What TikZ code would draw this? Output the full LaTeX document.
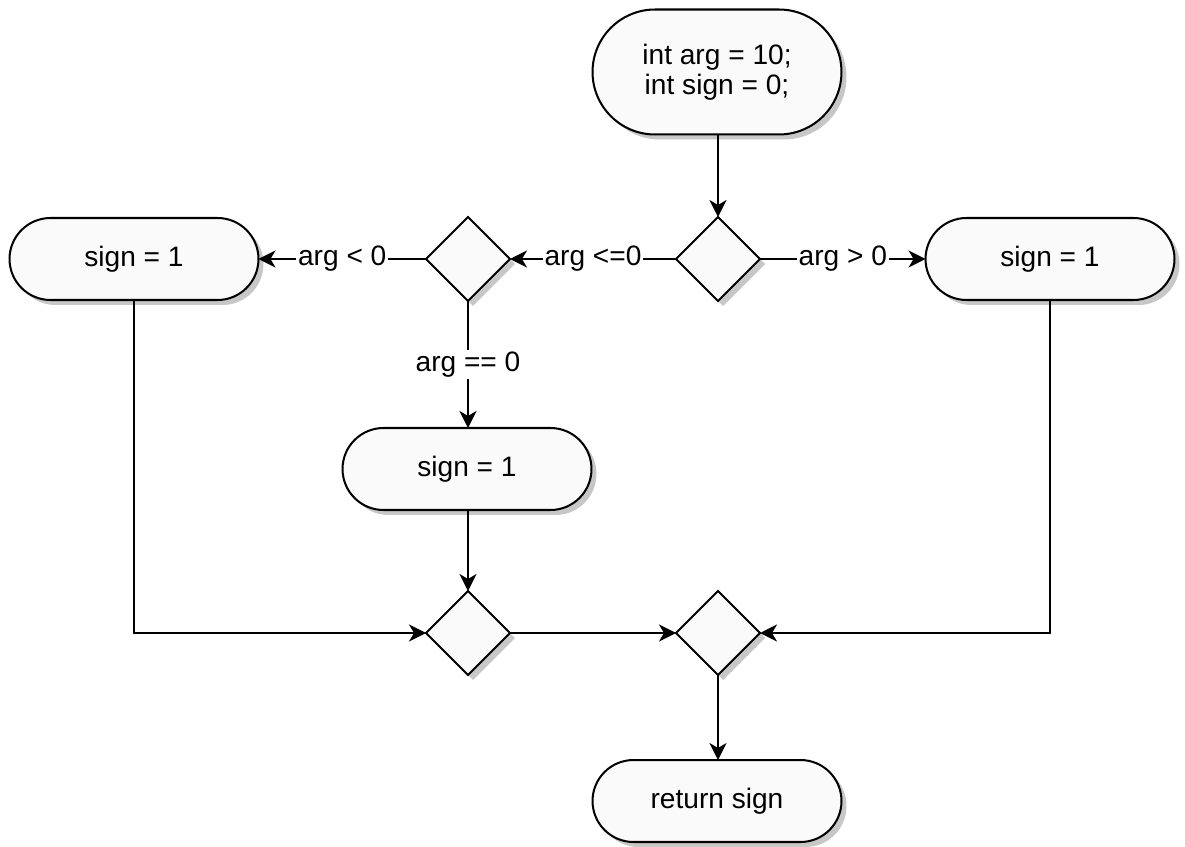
\documentclass[tikz,border=0pt]{standalone}
\usepackage{fontspec}
\setmainfont{Liberation Sans}
\usetikzlibrary{shapes.geometric,shadows,arrows.meta}
\begin{document}
\begin{tikzpicture}[x=0.02cm,y=-0.02cm,
  font=\fontsize{16}{17}\selectfont,
  shade/.style={drop shadow={shadow xshift=0.1cm,shadow yshift=-0.1cm,fill=black!22,opacity=1}},
  term/.style={draw,line width=1.15pt,fill=black!2,shade,rectangle,rounded corners=0.82cm,
    minimum width=4.98cm,minimum height=1.64cm,inner sep=0pt,outer sep=0pt,align=center},
  decide/.style={draw,line width=1.15pt,fill=black!2,shade,diamond,aspect=1,
    minimum width=1.68cm,minimum height=1.68cm,inner sep=0pt,outer sep=0pt},
  flow/.style={line width=1.15pt,-{Stealth[length=0.34cm,width=0.34cm,inset=0.1cm]}},
  lbl/.style={fill=white,inner sep=1pt}]
\useasboundingbox (0,0) rectangle (1185,847);

% nodes
\node[term,minimum height=2.5cm,rounded corners=1.25cm] (start) at (717,72) {int arg = 10;\\int sign = 0;};
\node[decide] (d1) at (718,259) {};
\node[decide] (d2) at (468,259) {};
\node[term] (lsign) at (134,259) {sign = 1};
\node[term] (rsign) at (1050,259) {sign = 1};
\node[term] (msign) at (467,469) {sign = 1};
\node[decide] (j1) at (468,633) {};
\node[decide] (j2) at (718,633) {};
\node[term] (ret) at (717,801) {return sign};

% connectors
\draw[flow] (start.south -| d1.north) -- (d1.north);
\draw[flow] (d1.west) -- node[lbl] {arg <=0} (d2.east);
\draw[flow] (d1.east) -- node[lbl] {arg > 0} (rsign.west);
\draw[flow] (d2.west) -- node[lbl] {arg < 0} (lsign.east);
\draw[flow] (d2.south) -- node[lbl] {arg == 0} (msign.north -| d2.south);
\draw[flow] (msign.south -| j1.north) -- (j1.north);
\draw[flow] (lsign.south) |- (j1.west);
\draw[flow] (j1.east) -- (j2.west);
\draw[flow] (rsign.south) |- (j2.east);
\draw[flow] (j2.south) -- (ret.north -| j2.south);
\end{tikzpicture}
\end{document}
